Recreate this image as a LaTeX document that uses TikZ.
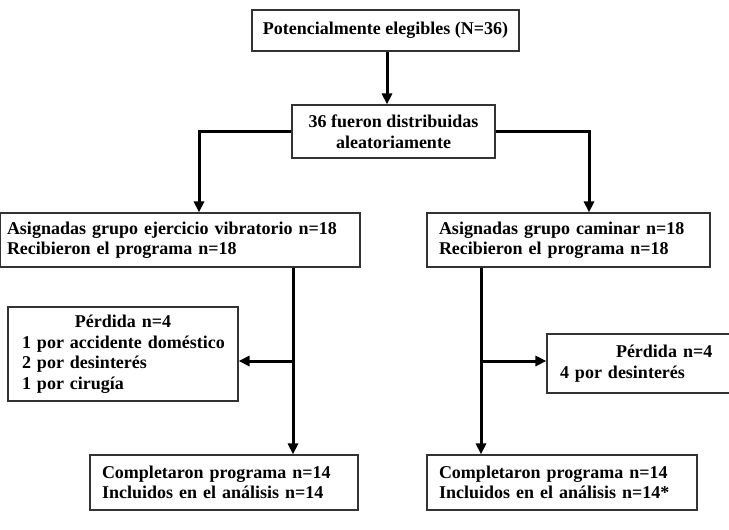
\documentclass[tikz,border=0pt]{standalone}
\usepackage{fontspec}
\setmainfont{Liberation Serif}
\usetikzlibrary{arrows.meta, positioning}
\definecolor{boxLine}{HTML}{333333}
\newcommand{\flowfont}{\fontsize{18}{20.5}\selectfont\bfseries}
\tikzset{
  arrowK/.style={-{Triangle[length=11pt, width=10pt]}, black, line width=3pt},
  boxC/.style={rectangle, draw=boxLine, line width=1.1pt, fill=white,
               align=center, font=\flowfont, inner sep=0pt},
  boxL/.style={rectangle, draw=boxLine, line width=1.1pt, fill=white,
               align=left, font=\flowfont, inner ysep=0pt},
}
\begin{document}
\begin{tikzpicture}[x=1pt, y=-1pt]
  \useasboundingbox (0,0) rectangle (729,530);
  % top of the flow
  \node[boxC, minimum width=267pt, minimum height=41pt] (elig) at (385.5,30.5)
    {Potencialmente elegibles (N=36)};
  \node[boxC, minimum width=203pt, minimum height=53pt] (dist) at (393.5,131.5)
    {36 fueron distribuidas\\aleatoriamente};
  % the two groups
  \node[boxL, inner xsep=7pt, text width=346pt, minimum height=54pt] (vib) at (180,240)
    {Asignadas grupo ejercicio vibratorio n=18\\Recibieron el programa n=18};
  \node[boxL, inner xsep=12pt, text width=259pt, minimum height=54pt] (cam) at (568.5,240)
    {Asignadas grupo caminar n=18\\Recibieron el programa n=18};
  % losses
  \node[boxL, inner xsep=6pt, text width=218pt, minimum height=94pt] (lossL) at (123,354)
    {\makebox[\linewidth]{Pérdida n=4}\\\hspace*{8pt}1 por accidente doméstico\\
     \hspace*{8pt}2 por desinterés\\\hspace*{8pt}1 por cirugía};
  \node[boxL, inner xsep=13pt, text width=172pt, minimum height=59pt] (lossR) at (646,363.5)
    {\hspace*{56pt}Pérdida n=4\\4 por desinterés};
  % completed
  \node[boxL, inner xsep=12pt, text width=244pt, minimum height=55pt] (compL) at (224,482.5)
    {Completaron programa n=14\\Incluidos en el análisis n=14};
  \node[boxL, inner xsep=12pt, text width=246pt, minimum height=55pt] (compR) at (562,482.5)
    {Completaron programa n=14\\Incluidos en el análisis n=14*};

  \coordinate (vibout) at ([xshift=113pt]vib.south);
  \coordinate (camout) at ([xshift=-87.5pt]cam.south);
  \coordinate (lossLin) at ([yshift=-7pt]lossL.east);
  \coordinate (lossRin) at ([yshift=2.5pt]lossR.west);

  \draw[arrowK] ([xshift=1.5pt]elig.south) -- ([xshift=1.5pt]elig.south |- dist.north);
  \draw[arrowK] (dist.west) -| ([xshift=19pt]vib.north);
  \draw[arrowK] (dist.east) -| ([xshift=20.5pt]cam.north);
  \draw[arrowK] (vibout) -- (vibout |- compL.north);
  \draw[arrowK] (vibout |- lossLin) -- (lossLin);
  \draw[arrowK] (camout) -- (camout |- compR.north);
  \draw[arrowK] (camout |- lossRin) -- (lossRin);
\end{tikzpicture}
\end{document}
